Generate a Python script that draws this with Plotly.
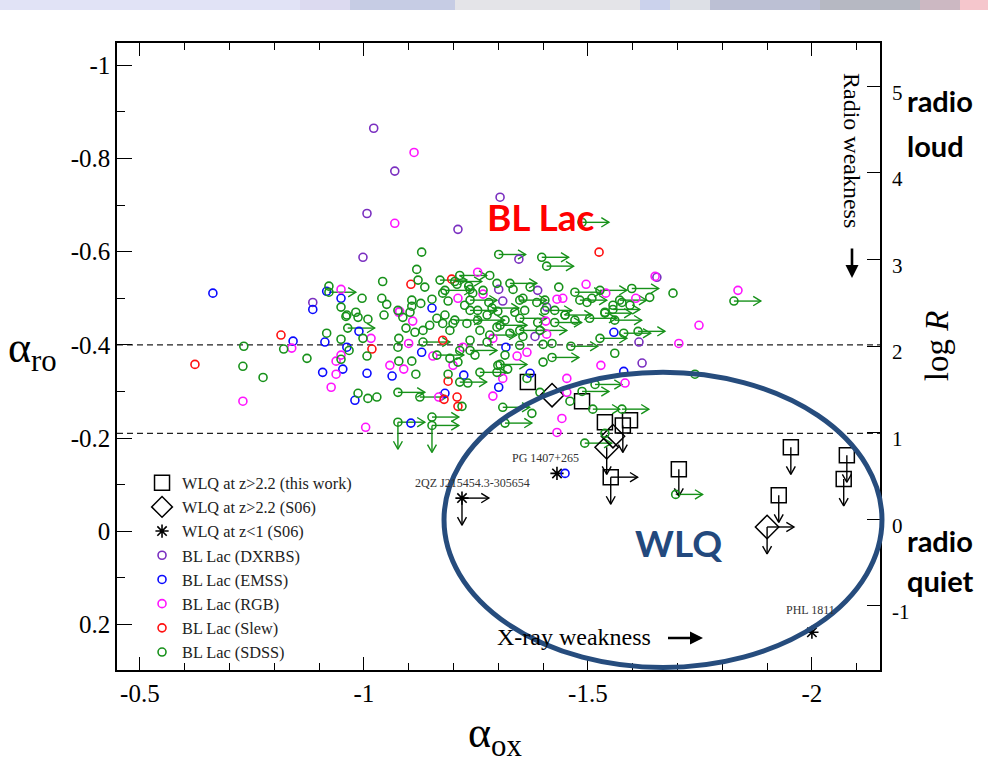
import plotly.graph_objects as go

# ---------------- data (alpha_ox, alpha_ro) ----------------
dxrbs_ox = [-1.022, -1.069, -1.007, -0.998, -1.210, -1.304, -0.886, -1.346, -1.301, -1.388,
            -1.310, -1.408, -1.382, -1.654, -1.614, -1.621]
dxrbs_ro = [-0.865, -0.773, -0.682, -0.588, -0.648, -0.717, -0.491, -0.584, -0.519, -0.517,
            -0.494, -0.481, -0.418, -0.545, -0.406, -0.361]

emss_ox = [-0.663, -0.917, -0.949, -0.886, -0.842, -0.913, -0.962, -0.989, -0.908, -0.953,
           -1.007, -1.063, -0.980, -1.105, -1.129, -1.152, -1.317, -1.223, -1.181, -1.301,
           -1.371, -1.558, -1.580, -1.449]
emss_ro = [-0.511, -0.515, -0.500, -0.476, -0.408, -0.406, -0.395, -0.429, -0.341, -0.348,
           -0.339, -0.333, -0.281, -0.232, -0.384, -0.479, -0.395, -0.335, -0.296, -0.309,
           -0.339, -0.427, -0.343, -0.124]

rgb_ox = [-1.112, -1.069, -0.949, -1.254, -1.210, -1.080, -1.266, -1.016, -0.839, -0.949,
          -0.938, -0.938, -0.927, -0.730, -1.058, -1.089, -1.078, -1.109, -1.100, -1.004,
          -1.221, -1.199, -1.167, -1.288, -1.406, -1.431, -1.444, -1.496, -1.540, -1.607,
          -1.154, -1.342, -1.364, -1.310, -1.288, -1.453, -1.453, -1.442, -1.431, -1.529,
          -1.583, -1.650, -1.835, -1.748, -1.703, -1.408]
rgb_ro = [-0.813, -0.661, -0.519, -0.556, -0.500, -0.472, -0.509, -0.414, -0.393, -0.378,
          -0.365, -0.337, -0.309, -0.279, -0.356, -0.348, -0.470, -0.451, -0.403, -0.223,
          -0.395, -0.356, -0.288, -0.414, -0.451, -0.498, -0.500, -0.530, -0.511, -0.500,
          -0.376, -0.376, -0.384, -0.328, -0.290, -0.328, -0.298, -0.242, -0.212, -0.356,
          -0.318, -0.547, -0.517, -0.442, -0.403, -0.423]

slew_ox = [-0.623, -0.815, -1.105, -1.018, -1.196, -1.176, -1.188, -1.179, -1.208, -1.210, -1.525]
slew_ro = [-0.358, -0.421, -0.530, -0.391, -0.541, -0.410, -0.322, -0.283, -0.288, -0.268, -0.599]

sdss_ox = [-0.732, -0.730, -0.775, -0.821, -0.873, -0.917, -0.949, -0.949, -0.996, -0.949,
           -0.960, -0.982, -0.987, -1.009, -0.998, -1.007, -1.042, -1.040, -1.051, -1.045,
           -0.987, -1.009, -1.029, -1.078, -1.076, -1.078, -1.107, -1.116, -1.107, -1.103,
           -1.087, -1.094, -1.114, -1.121, -1.118, -1.129, -1.136, -1.176, -1.107, -1.127,
           -1.152, -1.188, -1.208, -1.234, -1.243, -1.266, -1.279, -1.297, -0.922, -0.967,
           -0.962, -1.163, -1.176, -1.199, -1.230, -1.275, -1.192, -1.210, -1.188, -1.232,
           -1.219, -1.275, -1.299, -1.132, -1.076, -1.297, -1.326, -1.355, -1.388, -1.400,
           -1.420, -1.400, -1.297, -1.321, -1.560, -1.739, -1.460, -1.375, -1.393, -1.364,
           -1.538, -1.281, -1.237, -1.435, -1.509, -1.638, -1.690, -1.556, -1.538, -1.594,
           -1.498, -1.299, -1.337, -1.355, -1.371, -1.576, -1.181, -1.225, -1.254, -1.192,
           -1.237, -1.259, -1.315, -1.359, -1.404, -1.426, -1.449, -1.471, -1.214, -1.248,
           -1.315, -1.348, -1.333, -1.386, -1.147]
sdss_ro = [-0.397, -0.354, -0.330, -0.391, -0.371, -0.425, -0.412, -0.369, -0.500, -0.481,
           -0.461, -0.470, -0.459, -0.455, -0.414, -0.376, -0.536, -0.500, -0.487, -0.464,
           -0.296, -0.285, -0.288, -0.414, -0.395, -0.365, -0.365, -0.337, -0.496, -0.470,
           -0.459, -0.436, -0.427, -0.539, -0.562, -0.599, -0.524, -0.511, -0.483, -0.489,
           -0.498, -0.494, -0.530, -0.526, -0.511, -0.517, -0.491, -0.532, -0.526, -0.388,
           -0.464, -0.457, -0.446, -0.446, -0.446, -0.464, -0.371, -0.363, -0.337, -0.318,
           -0.268, -0.406, -0.356, -0.431, -0.474, -0.438, -0.425, -0.418, -0.448, -0.401,
           -0.403, -0.363, -0.341, -0.348, -0.382, -0.337, -0.279, -0.253, -0.298, -0.328,
           -0.210, -0.549, -0.519, -0.524, -0.500, -0.502, -0.511, -0.485, -0.470, -0.485,
           -0.491, -0.472, -0.470, -0.500, -0.524, -0.491, -0.464, -0.485, -0.474, -0.431,
           -0.410, -0.431, -0.453, -0.474, -0.496, -0.474, -0.464, -0.453, -0.388, -0.378,
           -0.378, -0.399, -0.519, -0.491, -0.442]

# SDSS limits: 'r' = upper limit on alpha_ox (arrow to the right), 'd' = arrow down
sdss_lim_ox = [-0.922, -0.964, -1.076, -1.076, -1.125, -1.152, -1.152, -1.132, -1.163, -1.214,
               -1.214, -1.203, -1.301, -1.397, -1.408, -1.326, -1.471, -1.598, -1.571, -1.826,
               -1.556, -1.612, -1.462, -1.516, -1.576, -1.511, -1.315, -1.310, -1.493, -1.487,
               -1.449, -1.420, -1.304, -1.527, -1.538, -1.580, -1.487, -1.696, -1.237, -1.286,
               -1.254, -1.304, -1.348, -1.237, -1.259, -1.181, -1.348, -1.404, -1.203,
               -1.170, -1.237, -1.348, -1.393, -1.426, -1.482, -1.504, -1.527, -1.560, -1.281]
sdss_lim_ro = [-0.513, -0.436, -0.298, -0.234, -0.288, -0.245, -0.227, -0.406, -0.378, -0.320,
               -0.549, -0.536, -0.594, -0.588, -0.569, -0.532, -0.513, -0.521, -0.496, -0.494,
               -0.476, -0.429, -0.397, -0.315, -0.262, -0.262, -0.232, -0.266, -0.189, -0.663,
               -0.464, -0.373, -0.358, -0.414, -0.468, -0.425, -0.300, -0.079, -0.496, -0.479,
               -0.453, -0.442, -0.431, -0.388, -0.341, -0.517, -0.496, -0.474, -0.453,
               -0.539, -0.474, -0.457, -0.431, -0.448, -0.496, -0.457, -0.517, -0.453, -0.421]
sdss_lim_dir = ['r', 'r', 'r', 'rd', 'r', 'r', 'rd', 'r', 'r', 'r',
                'r', 'r', 'r', 'r', 'r', 'r', 'r', 'r', 'r', 'r',
                'r', 'r', 'r', 'r', 'r', 'r', 'r', 'r', 'r', 'r',
                'r', 'r', 'r', 'r', 'r', 'r', 'r', 'r', 'r', 'r',
                'r', 'r', 'r', 'r', 'r', 'r', 'r', 'r', 'r',
                'r', 'r', 'r', 'r', 'r', 'r', 'r', 'r', 'r', 'r']

wlq_sq_ox = [-1.366, -1.487, -1.538, -1.578, -1.594, -1.551, -1.703, -1.953, -1.926, -2.078, -2.071]
wlq_sq_ro = [-0.320, -0.279, -0.234, -0.227, -0.238, -0.116, -0.133, -0.180, -0.077, -0.163, -0.112]
wlq_sq_dir = ['', '', '', 'd', '', 'rd', 'd', 'd', 'd', 'd', 'd']

wlq_dm_ox = [-1.420, -1.556, -1.542, -1.900]
wlq_dm_ro = [-0.292, -0.204, -0.180, -0.009]
wlq_dm_dir = ['', '', 'd', 'rd']

wlq_st_ox = [-1.219, -1.431, -2.000]
wlq_st_ro = [-0.071, -0.124, 0.217]
wlq_st_dir = ['rd', '', '']
wlq_st_names = ['2QZ J215454.3-305654', 'PG 1407+265', 'PHL 1811']

x_ticks = [-0.5, -1, -1.5, -2]
x_ticktext = ['-0.5', '-1', '-1.5', '-2']
y_ticks = [-1, -0.8, -0.6, -0.4, -0.2, 0, 0.2]
y_ticktext = ['-1', '-0.8', '-0.6', '-0.4', '-0.2', '0', '0.2']
logr_ticks = [-1, 0, 1, 2, 3, 4, 5]
logr_ticktext = ['-1', '0', '1', '2', '3', '4', '5']
ro_limits = [-0.4, -0.21]

# ---------------- style ----------------
SERIF = 'Liberation Serif'
GREEN = '#17911a'
PURPLE = '#7a2fc0'
ELL = '#264c7d'

AL_X, AL_Y = 0.060, 0.058          # arrow lengths (axis units)
HB_X, HS_Y = 0.017, 0.010          # right-arrow head
HB_Y, HS_X = 0.017, 0.010          # down-arrow head


def arrows(xs, ys, dirs):
    X, Y = [], []
    for x, y, d in zip(xs, ys, dirs):
        if 'r' in d:
            tx = x - AL_X
            X += [x, tx, None, tx + HB_X, tx, tx + HB_X, None]
            Y += [y, y, None, y - HS_Y, y, y + HS_Y, None]
        if 'd' in d:
            ty = y + AL_Y
            X += [x, x, None, x - HS_X, x, x + HS_X, None]
            Y += [y, ty, None, ty - HB_Y, ty, ty - HB_Y, None]
    return X, Y


fig = go.Figure()

ax_, ay_ = arrows(sdss_lim_ox, sdss_lim_ro, sdss_lim_dir)
fig.add_trace(go.Scatter(x=ax_, y=ay_, mode='lines', line=dict(color=GREEN, width=1.4),
                         showlegend=False, hoverinfo='skip'))
bx, by = [], []
for xs, ys, ds in [(wlq_sq_ox, wlq_sq_ro, wlq_sq_dir), (wlq_dm_ox, wlq_dm_ro, wlq_dm_dir),
                   (wlq_st_ox, wlq_st_ro, wlq_st_dir)]:
    a, b = arrows(xs, ys, ds)
    bx += a
    by += b
fig.add_trace(go.Scatter(x=bx, y=by, mode='lines', line=dict(color='black', width=1.4),
                         showlegend=False, hoverinfo='skip'))


def circ(name, xs, ys, color):
    fig.add_trace(go.Scatter(x=xs, y=ys, mode='markers', name=name,
                             marker=dict(symbol='circle-open', size=8, color=color,
                                         line=dict(width=1.6, color=color))))


fig.add_trace(go.Scatter(x=wlq_sq_ox, y=wlq_sq_ro, mode='markers', name='WLQ at z>2.2 (this work)',
                         marker=dict(symbol='square-open', size=15, color='black', line=dict(width=1.5))))
fig.add_trace(go.Scatter(x=wlq_dm_ox, y=wlq_dm_ro, mode='markers', name='WLQ at z>2.2 (S06)',
                         marker=dict(symbol='diamond-open', size=18, color='black', line=dict(width=1.5))))
fig.add_trace(go.Scatter(x=wlq_st_ox, y=wlq_st_ro, mode='markers', name='WLQ at z<1 (S06)',
                         marker=dict(symbol='asterisk-open', size=11, color='black', line=dict(width=1.6))))
circ('BL Lac (DXRBS)', dxrbs_ox, dxrbs_ro, PURPLE)
circ('BL Lac (EMSS)', emss_ox, emss_ro, '#0a0aff')
circ('BL Lac (RGB)', rgb_ox, rgb_ro, '#ff14ff')
circ('BL Lac (Slew)', slew_ox, slew_ro, '#ff1010')
circ('BL Lac (SDSS)', sdss_ox + sdss_lim_ox, sdss_ro + sdss_lim_ro, GREEN)

# dummy trace to activate right axis
fig.add_trace(go.Scatter(x=[None], y=[None], yaxis='y2', showlegend=False))

shapes = []
for v in ro_limits:
    shapes.append(dict(type='line', xref='paper', x0=0, x1=1, yref='y', y0=v, y1=v,
                       line=dict(color='#222', width=1.3, dash='6px,4px'), layer='below'))
shapes.append(dict(type='circle', xref='paper', yref='paper', x0=0.4286, x1=1.0026, y0=0.004, y1=0.475,
                   line=dict(color=ELL, width=5)))
band = [(0, 300, '#e1e3f6'), (300, 350, '#dcdaf0'), (350, 455, '#c6cce4'), (455, 640, '#e4e4e8'),
        (640, 670, '#cbd2ec'), (670, 710, '#dde0e6'), (710, 820, '#bcc0d4'), (820, 920, '#b6b8c2'),
        (920, 960, '#ccb8c2'), (960, 988, '#f5c6cc')]
for p0, p1, c in band:
    shapes.append(dict(type='rect', xref='paper', yref='paper', x0=(p0 - 117) / 763, x1=(p1 - 117) / 763,
                       y0=1 + 33 / 627, y1=1 + 43 / 627, fillcolor=c, line=dict(width=0)))

ann = []


def A(text, x, y, size, color='black', family=SERIF, xanchor='center', angle=0, **kw):
    ann.append(dict(text=text, x=x, y=y, xref='paper', yref='paper', showarrow=False,
                    font=dict(family=family, size=size, color=color), xanchor=xanchor,
                    yanchor='middle', textangle=angle, **kw))


A('α<sub>ro</sub>', -0.111, 0.51, 44)
A('α<sub>ox</sub>', 0.495, -0.104, 44)
A('log <i>R</i>', 1.0747, 0.518, 33, angle=-90)
A('Radio weakness', 0.9633, 0.8278, 24, angle=90)
A('X-ray weakness', 0.599, 0.0526, 24)
A('2QZ J215454.3-305654', 0.4653, 0.2982, 12, color='#333')
A('PG 1407+265', 0.561, 0.338, 12, color='#333')
A('PHL 1811', 0.874, 0.0957, 12, color='#333', xanchor='left')
A('<b>BL Lac</b>', 0.5544, 0.724, 37, color='#ff0000', family='Lato')
A('<b>WLQ</b>', 0.7353, 0.204, 37, color='#23497d', family='Lato')
A('<b>radio</b>', 1.0328, 0.908, 29, family='Lato', xanchor='left')
A('<b>loud</b>', 1.0328, 0.836, 29, family='Lato', xanchor='left')
A('<b>radio</b>', 1.0328, 0.2073, 29, family='Lato', xanchor='left')
A('<b>quiet</b>', 1.0328, 0.142, 29, family='Lato', xanchor='left')
ann.append(dict(text=' ', x=0.9633, y=(670 - 278) / 627, xref='paper', yref='paper', showarrow=True,
                ax=0, ay=-38, arrowhead=2, arrowsize=1, arrowwidth=2.6, arrowcolor='black'))
ann.append(dict(text=' ', x=(703 - 117) / 763, y=(670 - 638) / 627, xref='paper', yref='paper', showarrow=True,
                ax=-38, ay=0, arrowhead=2, arrowsize=1, arrowwidth=2.6, arrowcolor='black'))

fig.update_layout(
    width=988, height=773,
    margin=dict(l=117, r=108, t=43, b=103),
    paper_bgcolor='white', plot_bgcolor='white',
    shapes=shapes, annotations=ann,
    font=dict(family=SERIF, color='black'),
    xaxis=dict(range=[-0.449, -2.152], tickvals=x_ticks, ticktext=x_ticktext,
               ticks='inside', ticklen=13, tickwidth=1.3, tickcolor='black',
               minor=dict(dtick=0.1, ticks='inside', ticklen=7, tickwidth=1.2, tickcolor='black'),
               showline=True, linecolor='black', linewidth=1.5, mirror='ticks',
               showgrid=False, zeroline=False, tickfont=dict(family=SERIF, size=25)),
    yaxis=dict(range=[0.298, -1.048], tickvals=y_ticks, ticktext=y_ticktext,
               ticks='inside', ticklen=15, tickwidth=1.3, tickcolor='black',
               minor=dict(dtick=0.1, ticks='inside', ticklen=8, tickwidth=1.2, tickcolor='black'),
               showline=True, linecolor='black', linewidth=1.5,
               showgrid=False, zeroline=False, tickfont=dict(family=SERIF, size=25)),
    yaxis2=dict(range=[-1.741, 5.50], overlaying='y', side='right', tickvals=logr_ticks,
                ticktext=logr_ticktext, ticks='inside', ticklen=13, tickwidth=1.3, tickcolor='black',
                showline=True, linecolor='black', linewidth=1.5, showgrid=False, zeroline=False,
                tickfont=dict(family=SERIF, size=21), ticklabelshift=6, ticklabelstandoff=6),
    legend=dict(x=0.0328, y=0.326, xanchor='left', yanchor='top', bgcolor='rgba(0,0,0,0)',
                font=dict(family=SERIF, size=16.3, color='#222'), tracegroupgap=0),
    showlegend=True,
)

fig.write_html('out.html')
